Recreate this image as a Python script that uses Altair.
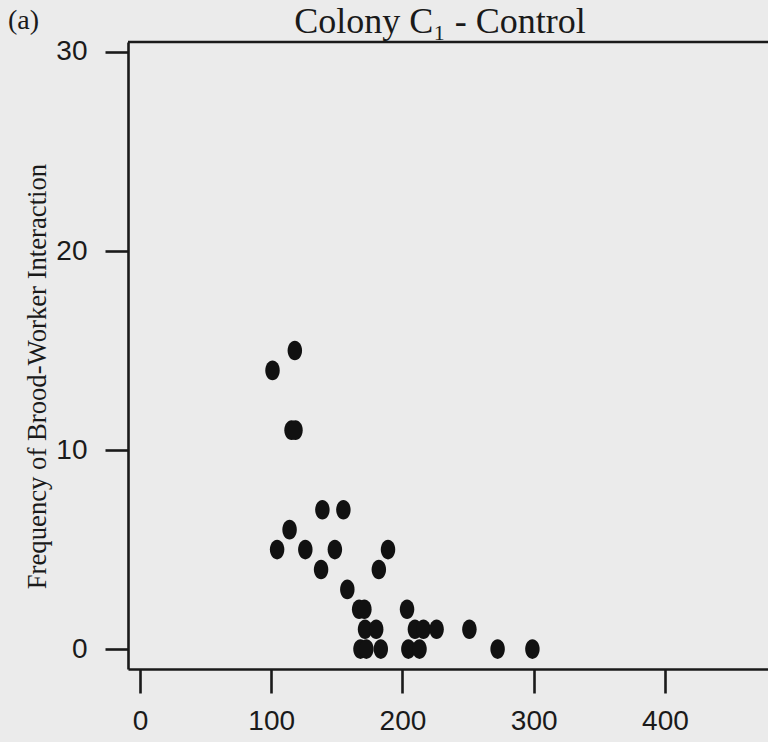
import altair as alt
import pandas as pd

# Body size (x) and brood-worker interaction frequency (y)
size_x = [118, 101, 115.5, 118.5, 139, 155, 114,
          104.5, 126, 148.5, 189, 138, 182, 158,
          167, 171, 203.5,
          171.5, 180, 209.5, 216, 226, 251,
          168, 172.5, 183.5, 204.5, 213, 272.5, 299]
freq = [15, 14, 11, 11, 7, 7, 6,
        5, 5, 5, 5, 4, 4, 3,
        2, 2, 2,
        1, 1, 1, 1, 1, 1,
        0, 0, 0, 0, 0, 0, 0]

x_ticks = [0, 100, 200, 300, 400]
y_ticks = [0, 10, 20, 30]

title_text = ["Colony C\u2081 - Control"]
y_title = "Frequency of Brood-Worker Interaction"
panel_tag = ["(a)"]

df = pd.DataFrame({"size_x": size_x, "freq": freq})

W, H = 640, 627
INK = "#1a1a1a"
BG = "#ebebeb"
SERIF = "Liberation Serif, Times New Roman, serif"
SANS = "Liberation Sans Narrow, Liberation Sans, Arial, sans-serif"

ELLIPSE = ("M 0 -1 C 0.407 -1 0.737 -0.552 0.737 0 "
           "C 0.737 0.552 0.407 1 0 1 C -0.407 1 -0.737 0.552 -0.737 0 "
           "C -0.737 -0.552 -0.407 -1 0 -1 Z")

points = alt.Chart(df).mark_point(
    shape=ELLIPSE, filled=True, size=385, color="#111111", opacity=1
).encode(
    x=alt.X("size_x:Q",
            scale=alt.Scale(domain=[-9.1, 478.5], nice=False, zero=False),
            axis=alt.Axis(values=x_ticks, title=None, tickSize=24,
                          labelPadding=14, labelFont=SANS, labelFontSize=28,
                          labelColor=INK, grid=False)),
    y=alt.Y("freq:Q",
            scale=alt.Scale(domain=[-1.0, 30.5], nice=False, zero=False),
            axis=alt.Axis(values=y_ticks, title=y_title, tickSize=23,
                          labelPadding=18, labelFont=SANS, labelFontSize=28,
                          labelColor=INK, grid=False,
                          titleFont=SERIF, titleFontSize=26.7,
                          titleFontWeight="normal", titleColor=INK,
                          titleAngle=270, titleBaseline="alphabetic",
                          titleAlign="center",
                          titleX=-83, titleY=334)),
)

top_line = alt.Chart(pd.DataFrame({"k": [0]})).mark_rule(
    color=INK, strokeWidth=2.6
).encode(x=alt.value(0), x2=alt.value(W), y=alt.value(0))

tag = alt.Chart(pd.DataFrame({"t": panel_tag})).mark_text(
    font=SERIF, fontSize=28, align="left", baseline="alphabetic", color=INK
).encode(text="t:N", x=alt.value(8 - 128), y=alt.value(29 - 42))

title = alt.Chart(pd.DataFrame({"t": title_text})).mark_text(
    font=SERIF, fontSize=36, align="center", baseline="alphabetic", color=INK
).encode(text="t:N", x=alt.value(440 - 128), y=alt.value(33 - 42))

chart = alt.layer(top_line, points, tag, title).properties(
    width=W, height=H,
    autosize=alt.AutoSizeParams(type="none"),
    padding={"left": 128, "top": 42, "right": 0, "bottom": 73},
).configure(
    background=BG
).configure_view(
    stroke=None
).configure_axis(
    domainColor=INK, domainWidth=2.6, tickColor=INK, tickWidth=2.6,
)

chart.save("out.html", embed_options={"renderer": "svg", "actions": False})
